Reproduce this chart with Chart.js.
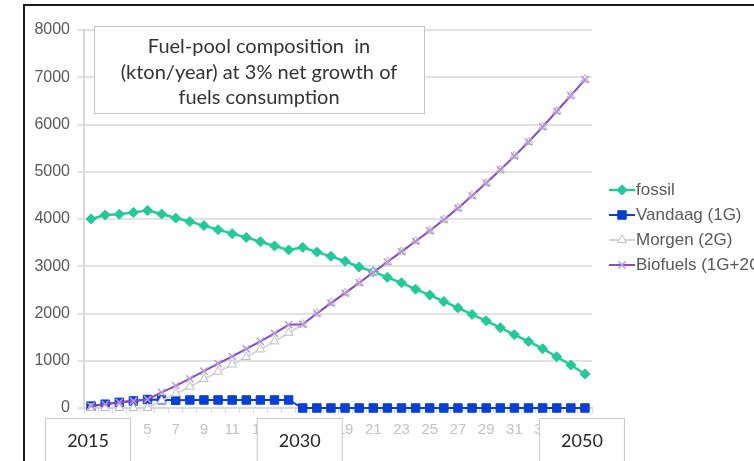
<!DOCTYPE html>
<html>
<head>
<meta charset="utf-8">
<script src="https://cdn.jsdelivr.net/npm/chart.js@4.4.1/dist/chart.umd.min.js"></script>
<style>
  html, body { margin: 0; padding: 0; background: #fff; overflow: hidden; }
  #wrap { position: relative; width: 754px; height: 461px; }
  #frame { position: absolute; left: 23px; top: 4px; width: 800px; height: 500px;
           border-left: 2px solid #1a1a1a; border-top: 2px solid #1a1a1a; pointer-events: none; }
  canvas { position: absolute; left: 0; top: 0; }
</style>
</head>
<body>
<div id="wrap">
  <canvas id="c" width="754" height="461"></canvas>
  <div id="frame"></div>
</div>
<script>
// Year index along the horizontal axis (1 = 2015 ... 36 = 2050)
const tickLabels = ['1','2','3','4','5','6','7','8','9','10','11','12','13','14','15','16','17','18',
  '19','20','21','22','23','24','25','26','27','28','29','30','31','32','33','34','35','36'];

// kton/year
const fossil = [4000, 4085, 4100, 4140, 4180, 4105, 4020, 3945, 3860, 3775, 3690, 3610, 3520, 3430,
  3345, 3400, 3300, 3210, 3105, 2985, 2885, 2765, 2650, 2515, 2390, 2255, 2120, 1980, 1845, 1700,
  1550, 1410, 1255, 1085, 910, 720];
const vandaag = [40, 80, 120, 150, 180, 175, 165, 170, 170, 170, 170, 170, 170, 170, 170,
  0, 0, 0, 0, 0, 0, 0, 0, 0, 0, 0, 0, 0, 0, 0, 0, 0, 0, 0, 0, 0];
const morgen = [0, 0, 0, 0, 0, 155, 305, 450, 610, 770, 920, 1080, 1240, 1410, 1590, 1770, 2000,
  2220, 2430, 2650, 2870, 3090, 3310, 3530, 3750, 3985, 4230, 4490, 4760, 5040, 5330, 5630, 5950,
  6280, 6610, 6950];
const biofuels = [40, 80, 120, 150, 180, 330, 470, 620, 780, 940, 1090, 1250, 1410, 1580, 1760,
  1770, 2000, 2220, 2430, 2650, 2870, 3090, 3310, 3530, 3750, 3985, 4230, 4490, 4760, 5040, 5330,
  5630, 5950, 6280, 6610, 6950];

const seriesNames = ['fossil', 'Vandaag (1G)', 'Morgen (2G)', 'Biofuels (1G+2G)'];
const yTicks = [0, 1000, 2000, 3000, 4000, 5000, 6000, 7000, 8000];

const titleLines = ['Fuel-pool composition  in', '(kton/year) at 3% net growth of', 'fuels consumption'];
const yearMarks = ['2015', '2030', '2050'];
const yearMarkIndex = [0, 15, 35];

// Title text box, the year boxes under the axis and the legend at the right
const overlays = {
  id: 'overlays',
  afterDraw(chart) {
    const ctx = chart.ctx;
    const xs = chart.scales.x;
    ctx.save();

    // title box
    ctx.fillStyle = '#ffffff';
    ctx.fillRect(94.5, 26.5, 330, 87);
    ctx.strokeStyle = '#c4c4c4';
    ctx.lineWidth = 1;
    ctx.strokeRect(94.5, 26.5, 330, 87);
    ctx.fillStyle = '#333333';
    ctx.font = '20px Lato';
    ctx.textAlign = 'center';
    ctx.textBaseline = 'middle';
    titleLines.forEach((t, i) => ctx.fillText(t, 259, 47 + i * 25.5));

    // year boxes
    ctx.font = '18px Lato';
    yearMarks.forEach((t, i) => {
      const cx = xs.getPixelForValue(yearMarkIndex[i]) - 3;
      ctx.fillStyle = '#ffffff';
      ctx.fillRect(cx - 42.5, 418.5, 85, 60);
      ctx.strokeStyle = '#c8c8c8';
      ctx.strokeRect(cx - 42.5, 418.5, 85, 60);
      ctx.fillStyle = '#262626';
      ctx.fillText(t, cx, 441);
    });

    // legend
    ctx.textAlign = 'left';
    ctx.font = '17px "Liberation Sans"';
    chart.data.datasets.forEach((ds, i) => {
      const y = 190 + i * 25;
      ctx.strokeStyle = ds.borderColor;
      ctx.lineWidth = ds.borderWidth;
      ctx.beginPath();
      ctx.moveTo(609, y);
      ctx.lineTo(635, y);
      ctx.stroke();
      ctx.fillStyle = ds.pointBackgroundColor;
      ctx.strokeStyle = ds.pointBorderColor;
      ctx.lineWidth = ds.pointBorderWidth;
      Chart.helpers.drawPoint(ctx, {
        pointStyle: ds.pointStyle, radius: ds.pointRadius, rotation: 0,
        borderWidth: ds.pointBorderWidth
      }, 622, y);
      ctx.fillStyle = '#595959';
      ctx.fillText(seriesNames[i], 636, y);
    });
    ctx.restore();
  }
};

new Chart(document.getElementById('c'), {
  type: 'line',
  data: {
    labels: tickLabels,
    datasets: [
      { label: seriesNames[0], data: fossil, order: 3, borderColor: '#22c99a', borderWidth: 2.5,
        pointStyle: 'rectRot', pointRadius: 5, pointBackgroundColor: '#22c99a',
        pointBorderColor: '#22c99a', pointBorderWidth: 1, clip: false },
      { label: seriesNames[1], data: vandaag, order: 2, borderColor: '#0a3fd6', borderWidth: 2,
        pointStyle: 'rect', pointRadius: 6, pointBackgroundColor: '#0a3fd6',
        pointBorderColor: '#0a3fd6', pointBorderWidth: 1, clip: false },
      { label: seriesNames[2], data: morgen, order: 1, borderColor: '#d6d6d6', borderWidth: 2,
        pointStyle: 'triangle', pointRadius: 5, pointBackgroundColor: '#ffffff',
        pointBorderColor: '#bdbdbd', pointBorderWidth: 1, clip: false },
      { label: seriesNames[3], data: biofuels, order: 0, borderColor: '#8a4bbf', borderWidth: 2,
        pointStyle: 'crossRot', pointRadius: 5, pointBackgroundColor: '#b89ad6',
        pointBorderColor: '#b89ad6', pointBorderWidth: 1.5, clip: false }
    ]
  },
  options: {
    responsive: false,
    animation: false,
    events: [],
    layout: { padding: { left: 30, right: 162, top: 30, bottom: 0 } },
    plugins: { legend: { display: false }, tooltip: { enabled: false } },
    elements: { line: { tension: 0 } },
    scales: {
      x: {
        offset: true,
        grid: { display: true, offset: true, drawOnChartArea: false, tickLength: 5, color: '#d9d9d9' },
        border: { display: true, color: '#d9d9d9', width: 2 },
        ticks: {
          autoSkip: false, maxRotation: 0, padding: 8, color: '#c2c2c2',
          font: { family: 'Liberation Sans', size: 15 },
          callback: (v, i) => (i % 2 === 0 ? tickLabels[i] : '')
        },
        afterFit: s => { s.height = 53; }
      },
      y: {
        min: 0, max: 8000,
        afterBuildTicks: s => { s.ticks = yTicks.map(v => ({ value: v })); },
        grid: { color: '#e2e2e2', lineWidth: 2, tickLength: 6 },
        border: { display: true, color: '#d9d9d9', width: 2 },
        ticks: {
          padding: 8, color: '#595959', font: { family: 'Liberation Sans', size: 16 },
          callback: v => String(v)
        },
        afterFit: s => { s.width = 54; }
      }
    }
  },
  plugins: [overlays]
});
</script>
</body>
</html>
